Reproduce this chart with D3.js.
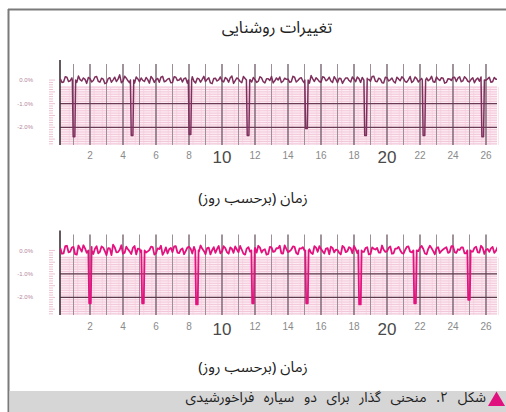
<!DOCTYPE html>
<html>
<head>
<meta charset="utf-8">
<script src="https://cdn.jsdelivr.net/npm/d3@7"></script>
<style>
  html, body { margin: 0; padding: 0; background: #fff; }
  svg { display: block; }
  .fa { font-family: "Noto Sans Arabic", "DejaVu Sans", sans-serif; }
  .num { font-family: "Liberation Sans", Arial, sans-serif; }
</style>
</head>
<body>
<svg id="chart" width="506" height="412"></svg>
<script>
// ---- data ----
const titleText = "تغییرات روشنایی";
const xLabelText = "زمان (برحسب روز)";
const captionText = "شکل ۲. منحنی گذار برای دو سیاره فراخورشیدی";

const xTickDays = [2, 4, 6, 8, 10, 12, 14, 16, 18, 20, 22, 24, 26];
const xTickLabels = ["2", "4", "6", "8", "10", "12", "14", "16", "18", "20", "22", "24", "26"];
const bigTickDays = [10, 20];
const yTickValues = [0, -1, -2];
const yTickLabels = ["0.0%", "-1.0%", "-2.0%"];

// brightness samples (% change): "base" every 0.2 day from day 0.2,
// "mid" samples fall halfway between them
const sampleStart = 0.2;
const sampleStep = 0.2;
const base1 = [0.05,-0.08,0.12,-0.03,0.18,-0.10,0.02,0.09,-0.14,0.06,
  -0.02,0.15,-0.09,0.04,-0.12,0.10,0.01,-0.06,0.22,-0.05,
  0.08,-0.11,0.03,0.13,-0.07,-0.01,0.11,-0.13,0.06,0.02,
  -0.09,0.16,-0.04,0.07,-0.10,0.12,0.00,-0.08,0.09,-0.03,
  0.14,-0.12,0.05,0.03,-0.06,0.10,-0.15,0.08,0.01,-0.04,
  0.11,-0.09,0.17,-0.02,0.04,-0.11,0.07,0.13,-0.08,0.02,
  -0.05,0.09,-0.12,0.06,0.15,-0.03,0.00,-0.10,0.08,0.04,
  -0.07,0.12,-0.02,0.10,-0.13,0.05,0.19,-0.06,0.03,-0.09,
  0.11,0.02,-0.04,0.14,-0.11,0.07,-0.01,0.09,-0.08,0.05,
  0.13,-0.10,0.02,0.08,-0.05,0.16,-0.07,0.04,-0.12,0.10,
  0.01,-0.06,0.12,-0.03,0.07,-0.09,0.15,-0.04,0.06,0.00,
  -0.11,0.09,0.03,-0.07,0.13,-0.02,0.08,-0.10,0.05,0.11,
  -0.06,0.14,-0.03,0.07,-0.08,0.10,0.02,-0.05,0.09,-0.01,
  0.12,-0.07,0.04,0.06];
const mid1 = [-0.10,0.14,-0.06,0.09,-0.12,0.17,-0.04,0.03,0.11,-0.08,
  0.13,-0.05,0.08,-0.15,0.06,-0.09,0.12,0.04,-0.11,0.16,
  -0.03,0.10,-0.13,0.05,0.09,-0.06,0.02,0.15,-0.10,0.07,
  0.12,-0.07,0.04,-0.11,0.14,-0.02,0.09,0.06,-0.13,0.11,
  -0.05,0.08,-0.09,0.16,0.03,-0.12,0.07,-0.04,0.13,-0.08,
  0.05,0.10,-0.14,0.09,-0.06,0.15,-0.03,0.02,0.11,-0.10,
  0.14,-0.07,0.06,-0.02,-0.12,0.09,0.13,-0.05,0.03,-0.09,
  0.16,-0.08,0.07,-0.04,0.11,-0.13,0.05,0.10,-0.06,0.14,
  -0.03,0.12,-0.10,0.04,0.08,-0.14,0.09,-0.02,0.13,-0.07,
  0.06,0.11,-0.09,0.03,0.15,-0.05,0.08,-0.11,0.12,-0.04,
  0.09,-0.12,0.05,0.14,-0.06,0.02,-0.10,0.13,-0.08,0.07,
  0.11,-0.03,0.16,-0.09,0.04,0.10,-0.13,0.06,-0.02,0.12,
  0.08,-0.07,0.14,-0.05,0.03,-0.11,0.09,0.13,-0.06,0.05,
  -0.09,0.11,0.04];
const base2 = [0.10,-0.12,0.20,-0.05,0.15,-0.18,0.08,0.22,-0.10,0.04,
  -0.15,0.18,-0.06,0.12,-0.20,0.09,0.25,-0.08,0.03,-0.14,
  0.16,-0.04,0.11,-0.17,0.07,0.21,-0.09,0.02,0.14,-0.12,
  0.06,-0.19,0.13,0.05,-0.07,0.18,-0.11,0.09,-0.03,0.16,
  -0.13,0.24,-0.06,0.08,-0.16,0.12,0.01,-0.10,0.19,-0.05,
  0.10,-0.14,0.07,0.17,-0.08,0.03,-0.18,0.14,-0.02,0.11,
  0.20,-0.09,0.05,-0.15,0.13,-0.04,0.09,-0.12,0.22,-0.07,
  0.04,0.15,-0.16,0.08,-0.01,0.12,-0.10,0.18,-0.06,0.06,
  -0.13,0.10,0.16,-0.08,0.02,-0.17,0.13,-0.03,0.09,0.19,
  -0.11,0.05,-0.06,0.14,-0.15,0.07,0.11,-0.09,0.03,-0.04,
  0.17,-0.12,0.08,0.01,-0.14,0.15,-0.05,0.10,-0.08,0.12,
  0.06,-0.16,0.20,-0.03,0.09,-0.11,0.04,0.14,-0.07,0.18,
  -0.10,0.02,0.13,-0.12,0.07,-0.05,0.16,-0.09,0.11,0.03,
  -0.06,0.15,-0.02,0.08];
const mid2 = [-0.14,0.18,-0.08,0.12,-0.16,0.21,-0.05,0.09,-0.19,0.15,
  0.07,-0.12,0.17,-0.03,0.10,-0.20,0.13,-0.07,0.22,-0.10,
  0.05,-0.15,0.19,0.08,-0.11,0.14,-0.04,0.16,-0.18,0.09,
  0.20,-0.06,-0.13,0.11,0.17,-0.09,0.03,-0.16,0.12,0.07,
  0.15,-0.11,0.21,-0.02,0.10,-0.17,0.14,0.06,-0.12,0.18,
  -0.07,0.13,-0.10,0.04,0.19,-0.14,0.08,-0.05,0.16,-0.09,
  0.12,0.02,-0.18,0.15,-0.06,0.10,0.20,-0.13,0.07,-0.03,
  0.17,-0.11,0.09,0.14,-0.08,0.05,-0.15,0.12,0.18,-0.04,
  0.08,-0.16,0.11,0.03,-0.10,0.19,-0.07,0.14,-0.12,0.06,
  0.16,-0.05,0.10,-0.17,0.13,0.04,-0.09,0.21,-0.06,0.11,
  -0.14,0.08,0.15,-0.11,0.02,0.17,-0.08,0.12,-0.03,0.19,
  -0.13,0.07,0.10,-0.16,0.14,-0.02,0.09,-0.10,0.18,-0.07,
  0.05,0.13,-0.12,0.16,-0.04,0.11,-0.08,0.20,-0.15,0.06,
  0.09,-0.10,0.14];

// transit mid-times (day) and depths (%)
const transitDays1 = [1.03, 4.55, 8.06, 11.58, 15.12, 18.70, 22.24, 25.80];
const transitDepth1 = [2.40, 2.35, 2.30, 2.35, 2.05, 2.35, 2.35, 2.40];
const transitDays2 = [2.00, 5.21, 8.48, 11.88, 15.15, 18.36, 21.70, 24.97];
const transitDepth2 = [2.25, 2.25, 2.30, 2.25, 2.25, 2.30, 2.25, 2.10];

// ---- layout ----
const svg = d3.select("#chart");
const W = 506, H = 412;
const plotLeft = 60, plotRight = 497;
const x = d3.scaleLinear().domain([0, 26.8]).range([57, 57 + 16.5 * 26.8]);
const yDomain = [-2.75, 0.85];

function buildSeries(base, mid, tDays, tDepth) {
  const halfIn = 0.05, halfOut = 0.1;
  const samples = base.map((v, i) => ({ t: sampleStart + i * sampleStep, v }))
    .concat(mid.map((v, i) => ({ t: sampleStart + (i + 0.5) * sampleStep, v })));
  const pts = samples.filter(p => tDays.every(t => Math.abs(p.t - t) > halfOut));
  tDays.forEach((t, i) => {
    pts.push({ t: t - halfOut, v: 0 });
    pts.push({ t: t - halfIn, v: -tDepth[i] });
    pts.push({ t: t + halfIn, v: -tDepth[i] });
    pts.push({ t: t + halfOut, v: 0 });
  });
  return pts.sort((a, b) => a.t - b.t);
}

function drawPanel(top, bottom, series, lineColor, lineWidth, gridDark, tickY, bigTickY, clipId) {
  const y = d3.scaleLinear().domain(yDomain).range([bottom, top]);
  const g = svg.append("g");

  g.append("clipPath").attr("id", clipId)
    .append("rect").attr("x", plotLeft).attr("y", top - 4)
    .attr("width", plotRight - plotLeft).attr("height", bottom - top + 8);

  // pale pink background under the baseline
  g.append("rect").attr("x", plotLeft).attr("y", y(-0.25))
    .attr("width", plotRight - plotLeft).attr("height", bottom - y(-0.25))
    .attr("fill", "#fcecf3");

  // fine pink horizontal rules every 0.1 %
  const fine = d3.range(-27, -2).map(k => k / 10);
  g.selectAll(".hfine").data(fine).join("line")
    .attr("x1", plotLeft).attr("x2", plotRight)
    .attr("y1", d => y(d)).attr("y2", d => y(d))
    .attr("stroke", "#efb6cd").attr("stroke-width", 0.7);

  // fine pink vertical rules every half day
  const halfDays = d3.range(1, 54).map(k => k / 2 + 0.25);
  g.selectAll(".vfine").data(halfDays).join("line")
    .attr("x1", d => x(d)).attr("x2", d => x(d))
    .attr("y1", y(-0.3)).attr("y2", bottom)
    .attr("stroke", "#f4cddc").attr("stroke-width", 0.6);

  // small pink ruler marks at the left edge
  g.selectAll(".lmark").data(d3.range(-27, 1).map(k => k / 10)).join("line")
    .attr("x1", 49).attr("x2", d => (Math.round(d * 10) % 5 === 0 ? 55 : 53))
    .attr("y1", d => y(d)).attr("y2", d => y(d))
    .attr("stroke", "#e9b2c8").attr("stroke-width", 0.8);

  // day grid lines
  const days = d3.range(1, 27);
  g.selectAll(".vday").data(days).join("line")
    .attr("x1", d => x(d)).attr("x2", d => x(d))
    .attr("y1", top + 4).attr("y2", bottom)
    .attr("stroke", d => d % 2 === 0 ? "#6e5866" : "#9e8e98")
    .attr("stroke-width", d => d % 2 === 0 ? 1.3 : 1);

  // dark horizontal rules at -1 % and -2 %
  g.selectAll(".hmaj").data([-1, -2]).join("line")
    .attr("x1", plotLeft).attr("x2", plotRight)
    .attr("y1", d => y(d)).attr("y2", d => y(d))
    .attr("stroke", gridDark).attr("stroke-width", 1.3);

  // left axis
  g.append("line").attr("x1", plotLeft).attr("x2", plotLeft)
    .attr("y1", top).attr("y2", bottom)
    .attr("stroke", "#3e3038").attr("stroke-width", 1.6);

  // light curve
  const line = d3.line().x(d => x(d.t)).y(d => y(d.v));
  g.append("path").datum(series)
    .attr("clip-path", `url(#${clipId})`)
    .attr("d", line).attr("fill", "none")
    .attr("stroke", lineColor).attr("stroke-width", lineWidth)
    .attr("stroke-linejoin", "round");

  // y labels
  g.selectAll(".ylab").data(yTickValues).join("text")
    .attr("class", "num")
    .attr("x", 33).attr("y", d => y(d))
    .attr("dy", "0.35em").attr("text-anchor", "end")
    .attr("font-size", 6).attr("fill", "#b5869a")
    .text((d, i) => yTickLabels[i]);

  // x labels
  g.selectAll(".xlab").data(xTickDays).join("text")
    .attr("class", "num")
    .attr("x", d => x(d))
    .attr("y", d => bigTickDays.includes(d) ? bigTickY : tickY)
    .attr("dy", "0.35em").attr("text-anchor", "middle")
    .attr("font-size", d => bigTickDays.includes(d) ? 17 : 10)
    .attr("fill", d => bigTickDays.includes(d) ? "#4a4a4a" : "#8a8a8a")
    .text((d, i) => xTickLabels[i]);
}

// frame
svg.append("line").attr("x1", 8).attr("x2", W).attr("y1", 9.5).attr("y2", 9.5)
  .attr("stroke", "#7a7a7a").attr("stroke-width", 2);
svg.append("line").attr("x1", 8.5).attr("x2", 8.5).attr("y1", 9).attr("y2", H)
  .attr("stroke", "#7a7a7a").attr("stroke-width", 2);

// title
svg.append("text").attr("class", "fa")
  .attr("x", 277).attr("y", 33).attr("text-anchor", "middle")
  .attr("direction", "rtl").attr("font-size", 16.5).attr("fill", "#222")
  .text(titleText);

drawPanel(60, 145, buildSeries(base1, mid1, transitDays1, transitDepth1),
  "#7e2f5c", 1.5, "#6b3a55", 155, 157, "clip1");
drawPanel(230.5, 315, buildSeries(base2, mid2, transitDays2, transitDepth2),
  "#e3127f", 1.8, "#5e3a4c", 326.5, 329, "clip2");

// x axis titles
[203, 372].forEach(yy => {
  svg.append("text").attr("class", "fa")
    .attr("x", 253).attr("y", yy).attr("text-anchor", "middle")
    .attr("direction", "rtl").attr("font-size", 15).attr("fill", "#222")
    .text(xLabelText);
});

// caption band
svg.append("rect").attr("x", 9.5).attr("y", 391).attr("width", W - 9.5).attr("height", H - 391)
  .attr("fill", "#d6d6d6");
svg.append("path")
  .attr("d", d3.line()([[488, 406], [505, 406], [496.5, 391.5]]) + "Z")
  .attr("fill", "#e0107e");
svg.append("text").attr("class", "fa")
  .attr("x", 486).attr("y", 402).attr("text-anchor", "start")
  .attr("direction", "rtl").attr("font-size", 14).attr("word-spacing", 6)
  .attr("fill", "#222")
  .text(captionText);
</script>
</body>
</html>
